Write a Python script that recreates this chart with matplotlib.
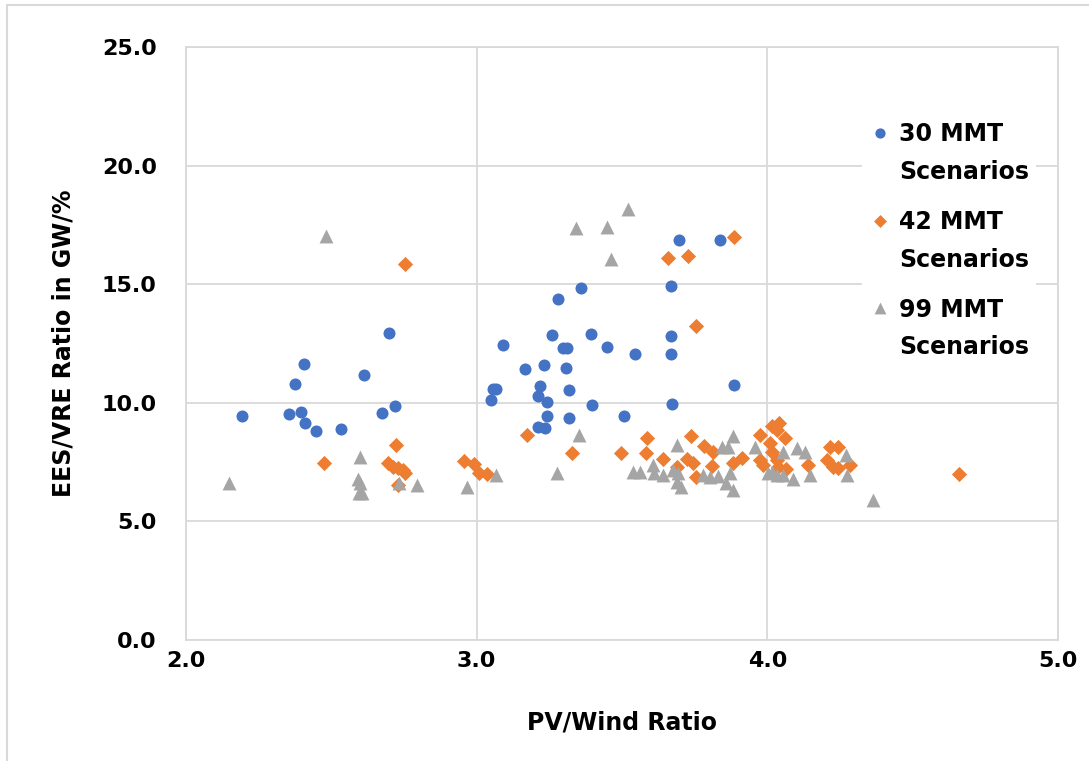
import numpy as np
import matplotlib.pyplot as plt
from matplotlib.patches import Rectangle
from matplotlib.collections import PathCollection
from matplotlib.legend_handler import HandlerPathCollection

# 30 MMT scenarios
x30 = [2.194, 2.353, 2.395, 2.410, 2.446, 2.533, 2.376, 2.405, 2.611, 2.674, 2.720, 2.699,
       3.695, 3.837, 3.668, 3.358, 3.281, 3.092, 3.260, 3.393, 3.298, 3.312, 3.450, 3.546,
       3.668, 3.668, 3.166, 3.230, 3.306, 3.055, 3.067, 3.048, 3.218, 3.211, 3.241, 3.317,
       3.398, 3.672, 3.886, 3.241, 3.317, 3.508, 3.212, 3.235]
y30 = [9.44, 9.52, 9.62, 9.16, 8.81, 8.88, 10.78, 11.64, 11.17, 9.56, 9.88, 12.93,
       16.88, 16.88, 14.91, 14.83, 14.38, 12.44, 12.85, 12.90, 12.32, 12.32, 12.35, 12.04,
       12.81, 12.04, 11.41, 11.61, 11.48, 10.58, 10.58, 10.12, 10.72, 10.30, 10.03, 10.54,
       9.91, 9.95, 10.74, 9.43, 9.36, 9.43, 8.97, 8.93]

# 42 MMT scenarios
x42 = [2.754, 2.721, 2.475, 2.696, 2.713, 2.730, 2.747, 2.753, 2.730, 2.957, 2.992, 3.009,
       3.037, 3.886, 3.657, 3.728, 3.756, 3.172, 3.329, 3.498, 3.586, 3.582, 3.642, 3.688,
       3.737, 3.783, 3.814, 3.722, 3.744, 3.756, 3.811, 3.882, 3.914, 3.975, 4.015, 4.041,
       4.032, 4.061, 4.009, 4.015, 3.975, 3.986, 4.032, 4.037, 4.066, 4.141, 4.215, 4.244,
       4.204, 4.227, 4.244, 4.284, 4.659]
y42 = [15.86, 8.21, 7.46, 7.45, 7.31, 7.24, 7.17, 7.03, 6.53, 7.56, 7.41, 7.03,
       7.00, 16.99, 16.13, 16.20, 13.25, 8.63, 7.90, 7.90, 8.53, 7.90, 7.62, 7.28,
       8.60, 8.19, 7.92, 7.65, 7.47, 6.88, 7.35, 7.47, 7.69, 8.64, 9.02, 9.14,
       8.85, 8.50, 8.29, 7.94, 7.59, 7.38, 7.59, 7.31, 7.20, 7.38, 8.12, 8.12,
       7.59, 7.31, 7.24, 7.38, 6.99]

# 99 MMT scenarios
x99 = [2.482, 2.148, 2.600, 2.593, 2.599, 2.595, 2.605, 2.734, 2.794, 2.968, 3.068,
       3.519, 3.341, 3.447, 3.462, 3.352, 3.275, 3.539, 3.562, 3.605, 3.611, 3.642,
       3.691, 3.676, 3.694, 3.688, 3.703, 3.780, 3.802, 3.831, 3.845, 3.866, 3.883,
       3.859, 3.883, 3.871, 3.957, 4.003, 4.015, 4.032, 4.055, 4.053, 4.089, 4.102,
       4.128, 4.147, 4.270, 4.273, 4.362]
y99 = [17.03, 6.63, 7.70, 6.77, 6.61, 6.21, 6.21, 6.63, 6.53, 6.46, 6.96,
       18.16, 17.36, 17.42, 16.05, 8.63, 7.05, 7.08, 7.08, 7.38, 7.03, 6.96,
       8.22, 7.17, 7.03, 6.68, 6.46, 6.96, 6.88, 6.91, 8.15, 8.15, 8.60,
       6.61, 6.32, 7.03, 8.15, 7.03, 7.10, 6.96, 6.96, 7.94, 6.77, 8.08,
       7.94, 6.96, 7.80, 6.96, 5.90]

labels = ['30 MMT\nScenarios', '42 MMT\nScenarios', '99 MMT\nScenarios']
colors = ['#4472C4', '#ED7D31', '#A5A5A5']

plt.rcParams['font.family'] = ['DejaVu Sans']
plt.rcParams['font.weight'] = 'bold'

fig = plt.figure(figsize=(10.89, 7.61), dpi=100)
ax = fig.add_axes([0.1708, 0.159, 0.8007, 0.779])

ax.scatter(x30, y30, s=75, marker='o', color=colors[0], linewidths=0, label=labels[0], zorder=3)
ax.scatter(x42, y42, s=60, marker='D', color=colors[1], linewidths=0, label=labels[1], zorder=3)
ax.scatter(x99, y99, s=100, marker='^', color=colors[2], linewidths=0, label=labels[2], zorder=3)

ax.set_xlim(2.0, 5.0)
ax.set_ylim(0.0, 25.0)
ax.set_xticks(np.arange(2.0, 5.01, 1.0))
ax.set_yticks(np.arange(0.0, 25.01, 5.0))
ax.xaxis.set_major_formatter(plt.FormatStrFormatter('%.1f'))
ax.yaxis.set_major_formatter(plt.FormatStrFormatter('%.1f'))
ax.grid(True, color='#D9D9D9', lw=1.3, zorder=0)
ax.set_axisbelow(True)
for sp in ax.spines.values():
    sp.set_color('#D9D9D9')
    sp.set_linewidth(1.3)
ax.tick_params(length=0, labelsize=16, pad=8)
ax.tick_params(axis='y', pad=21)

ax.set_xlabel('PV/Wind Ratio', fontsize=17, fontweight='bold', labelpad=28)
ax.set_ylabel('EES/VRE Ratio in GW/%', fontsize=17, fontweight='bold', labelpad=19)

leg = ax.legend(loc='upper left', bbox_to_anchor=(0.762, 0.905), frameon=True, fontsize=17,
                markerscale=0.85, handletextpad=0.35, labelspacing=1.1, borderpad=0.3,
                handlelength=0.9,
                handler_map={PathCollection: HandlerPathCollection(yoffsets=[1.8])})
leg.get_frame().set_edgecolor('none')
leg.get_frame().set_facecolor('white')
leg.get_frame().set_alpha(1)
for t in leg.get_texts():
    t.set_linespacing(1.72)

fig.patches.append(Rectangle((7 / 1089, -0.02), 1.1, 1 - 5 / 761 + 0.02, transform=fig.transFigure,
                             fill=False, edgecolor='#D9D9D9', lw=1.5))

fig.savefig('out.png', dpi=100)
